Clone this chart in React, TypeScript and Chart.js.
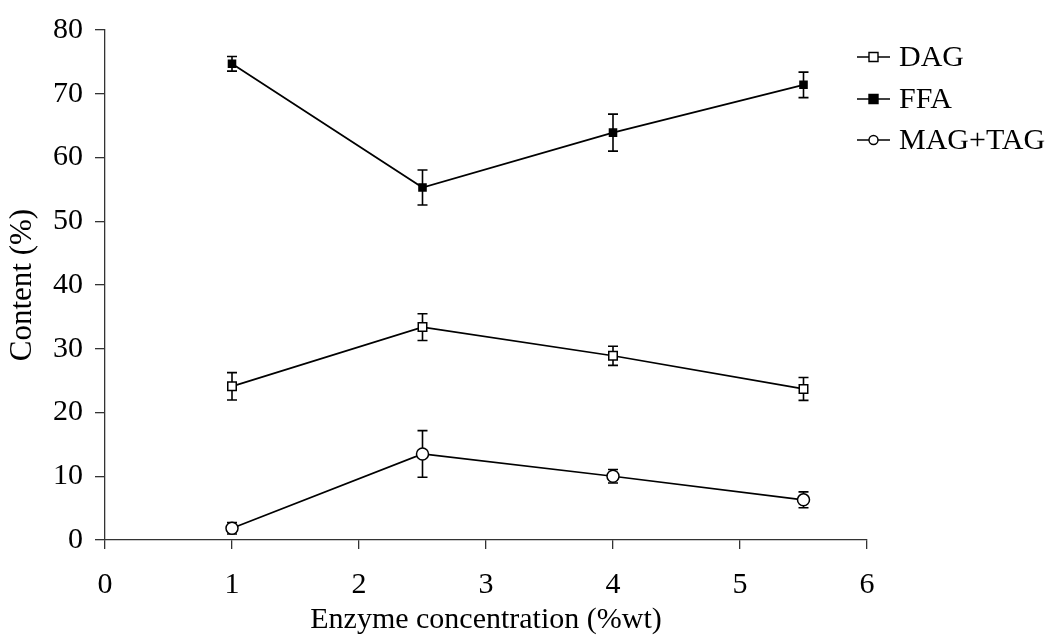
import React, { useEffect, useRef } from "react";
import { Chart, registerables } from "chart.js";

Chart.register(...registerables);

// Enzyme loading (% wt) and the resulting product composition (%)
const concentrations = [1, 2.5, 4, 5.5];
const seriesNames = ["DAG", "FFA", "MAG+TAG"];
const dagValues = [24.1, 33.4, 28.9, 23.7];
const dagErrors = [2.15, 2.1, 1.5, 1.8];
const ffaValues = [74.7, 55.3, 63.9, 71.4];
const ffaErrors = [1.15, 2.75, 2.9, 2.0];
const magTagValues = [1.85, 13.5, 10.0, 6.3];
const magTagErrors = [0.9, 3.65, 1.05, 1.25];
const yTicks = [0, 10, 20, 30, 40, 50, 60, 70, 80];
const xTicks = [0, 1, 2, 3, 4, 5, 6];

const FONT = '"Liberation Serif", "Times New Roman", serif';
const AXIS_COLOR = "#333333";

type Marker = { style: "rect" | "circle"; fill: string; radius: number };
const markers: Marker[] = [
  { style: "rect", fill: "#ffffff", radius: 6 },
  { style: "rect", fill: "#000000", radius: 5 },
  { style: "circle", fill: "#ffffff", radius: 6 },
];
const errorSets = [dagErrors, ffaErrors, magTagErrors];

function drawMarker(ctx: CanvasRenderingContext2D, m: Marker, x: number, y: number, r: number) {
  ctx.save();
  ctx.fillStyle = m.fill;
  ctx.strokeStyle = "#000";
  ctx.lineWidth = 1.4;
  ctx.beginPath();
  if (m.style === "rect") ctx.rect(x - r, y - r, r * 2, r * 2);
  else ctx.arc(x, y, r, 0, Math.PI * 2);
  ctx.fill();
  ctx.stroke();
  ctx.restore();
}

// Vertical error bars with caps, drawn under the point markers
const errorBarPlugin = {
  id: "errorBars",
  beforeDatasetsDraw(chart: any) {
    const { ctx } = chart;
    const xs = chart.scales.x;
    const ys = chart.scales.y;
    ctx.save();
    ctx.strokeStyle = "#000";
    ctx.lineWidth = 1.6;
    chart.data.datasets.forEach((ds: any, i: number) => {
      const errs = errorSets[i];
      ds.data.forEach((pt: any, j: number) => {
        const px = xs.getPixelForValue(pt.x);
        const top = ys.getPixelForValue(pt.y + errs[j]);
        const bot = ys.getPixelForValue(pt.y - errs[j]);
        ctx.beginPath();
        ctx.moveTo(px, top);
        ctx.lineTo(px, bot);
        ctx.moveTo(px - 5, top);
        ctx.lineTo(px + 5, top);
        ctx.moveTo(px - 5, bot);
        ctx.lineTo(px + 5, bot);
        ctx.stroke();
      });
    });
    ctx.restore();
  },
};

// Legend: short line with marker followed by the series name
const sideLegendPlugin = {
  id: "sideLegend",
  afterDraw(chart: any) {
    const { ctx, chartArea } = chart;
    const x0 = chartArea.right - 10;
    const rows = [57, 99, 140];
    ctx.save();
    seriesNames.forEach((name, i) => {
      const y = rows[i];
      ctx.strokeStyle = "#000";
      ctx.lineWidth = 1.5;
      ctx.beginPath();
      ctx.moveTo(x0, y);
      ctx.lineTo(x0 + 33, y);
      ctx.stroke();
      drawMarker(ctx, markers[i], x0 + 16.5, y, 4.5);
      ctx.fillStyle = "#000";
      ctx.font = `30px ${FONT}`;
      ctx.textAlign = "left";
      ctx.textBaseline = "middle";
      ctx.fillText(name, x0 + 42, y + 1);
    });
    ctx.restore();
  },
};

export default function App() {
  const canvasRef = useRef<HTMLCanvasElement | null>(null);

  useEffect(() => {
    if (!canvasRef.current) return;
    const allValues = [dagValues, ffaValues, magTagValues];
    const datasets = seriesNames.map((name, i) => ({
      label: name,
      data: concentrations.map((c, j) => ({ x: c, y: allValues[i][j] })),
      borderColor: "#000",
      borderWidth: 1.7,
      backgroundColor: markers[i].fill,
      pointBackgroundColor: markers[i].fill,
      pointBorderColor: "#000",
      pointBorderWidth: 1.5,
      pointStyle: markers[i].style === "rect" ? "rect" : "circle",
      pointRadius: markers[i].radius,
      showLine: true,
      tension: 0,
    }));

    const chart = new Chart(canvasRef.current, {
      type: "scatter",
      data: { datasets },
      options: {
        animation: false,
        responsive: false,
        layout: { padding: { top: 25, right: 184, left: 0, bottom: 0 } },
        plugins: {
          legend: { display: false },
          tooltip: { enabled: false },
        },
        scales: {
          x: {
            type: "linear",
            min: 0,
            max: 6,
            afterBuildTicks: (s: any) => {
              s.ticks = xTicks.map((v) => ({ value: v }));
            },
            afterFit: (s: any) => {
              s.height = 99;
            },
            grid: {
              drawOnChartArea: false,
              drawTicks: true,
              tickLength: 9,
              tickColor: AXIS_COLOR,
              lineWidth: 1.3,
            },
            border: { display: true, color: AXIS_COLOR, width: 1.3 },
            ticks: {
              color: "#000",
              font: { family: FONT, size: 30 },
              padding: 18,
              maxRotation: 0,
            },
            title: {
              display: true,
              text: "Enzyme concentration (%wt)",
              color: "#000",
              font: { family: FONT, size: 30 },
              padding: { top: 0, bottom: 1 },
            },
          },
          y: {
            type: "linear",
            min: 0,
            max: 80,
            afterBuildTicks: (s: any) => {
              s.ticks = yTicks.map((v) => ({ value: v }));
            },
            afterFit: (s: any) => {
              s.width = 105;
            },
            grid: {
              drawOnChartArea: false,
              drawTicks: true,
              tickLength: 10,
              tickColor: AXIS_COLOR,
              lineWidth: 1.3,
            },
            border: { display: true, color: AXIS_COLOR, width: 1.3 },
            ticks: {
              color: "#000",
              font: { family: FONT, size: 30 },
              padding: 12,
            },
            title: {
              display: true,
              text: "Content (%)",
              color: "#000",
              font: { family: FONT, size: 31 },
              padding: { top: 4, bottom: 0 },
            },
          },
        },
      },
      plugins: [errorBarPlugin, sideLegendPlugin],
    } as any);

    return () => chart.destroy();
  }, []);

  return (
    <div style={{ position: "fixed", left: 0, top: 0, width: 1051, height: 639, background: "#fff" }}>
      <canvas ref={canvasRef} width={1051} height={639} style={{ display: "block" }} />
    </div>
  );
}
